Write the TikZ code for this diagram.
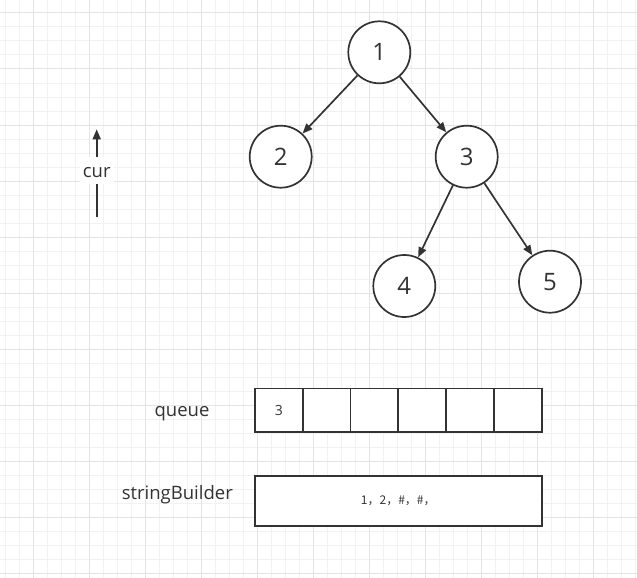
\documentclass[tikz,border=0pt]{standalone}
\usepackage{fontspec}
\setmainfont{Open Sans}
\newfontfamily\cjk{Noto Sans CJK SC}
\usetikzlibrary{arrows.meta}
\definecolor{ink}{RGB}{51,51,51}
\definecolor{gridminor}{RGB}{242,242,242}
\definecolor{gridmajor}{RGB}{228,228,228}
\tikzset{
  treenode/.style={circle, draw=ink, line width=1.7pt, fill=white, minimum size=62pt, inner sep=0pt, font=\fontsize{24}{28}\selectfont, text=ink},
  arr/.style={draw=ink, line width=1.7pt, -{Triangle[length=10pt,width=8pt]}},
  cell/.style={rectangle, draw=ink, line width=1.7pt, fill=white, minimum width=47.78pt, minimum height=43.3pt, inner sep=0pt, font=\fontsize{14}{16}\selectfont, text=ink},
  sbbox/.style={rectangle, draw=ink, line width=1.7pt, fill=white, minimum width=286.7pt, minimum height=49.7pt, inner sep=0pt, font=\cjk\fontsize{12}{14}\selectfont, text=ink},
  lbl/.style={font=\fontsize{18.5}{22}\selectfont, text=ink, inner sep=1pt, anchor=base},
}
\begin{document}
\begin{tikzpicture}[x=1pt,y=-1pt]
\useasboundingbox (0,0) rectangle (637,578);
\fill[white] (0,0) rectangle (637,578);
% grid
\foreach \i in {0,...,45} { \draw[gridminor, line width=1pt] ({5+14*\i},0) -- ({5+14*\i},578); }
\foreach \i in {0,...,41} { \draw[gridminor, line width=1pt] (0,{13+14*\i}) -- (637,{13+14*\i}); }
\foreach \i in {0,...,10} { \draw[gridmajor, line width=1pt] ({33+56*\i},0) -- ({33+56*\i},578); }
\foreach \i in {0,...,10} { \draw[gridmajor, line width=1pt] (0,{13+56*\i}) -- (637,{13+56*\i}); }
% tree
\node[treenode] (n1) at (379.3,52.3) {1};
\node[treenode] (n2) at (280.7,156.7) {2};
\node[treenode] (n3) at (466.7,156.7) {3};
\node[treenode] (n4) at (404.3,286) {4};
\node[treenode] (n5) at (550,281.7) {5};
\draw[arr] (n1) -- (n2);
\draw[arr] (n1) -- (n3);
\draw[arr] (n3) -- (n4);
\draw[arr] (n3) -- (n5);
% cur pointer
\coordinate (curbot) at (96.7,217);
\coordinate (curtop) at (96.7,129.3);
\draw[arr] (curbot) -- (curtop);
\fill[white] (80,157) rectangle (114,184);
\node[lbl] (cur) at (96.7,177.3) {cur};
% queue
\node[lbl] (qlbl) at (182,416.7) {queue};
\foreach \k/\t in {1/3,2/{},3/{},4/{},5/{},6/{}} {
  \node[cell] (q\k) at ({255+47.78*(\k-0.5)},410) {\t};
}
% string builder
\node[lbl] (sblbl) at (177.3,499.3) {stringBuilder};
\node[sbbox] (sb) at (398.3,500.8) {1，2，\#，\#，};
\end{tikzpicture}
\end{document}
